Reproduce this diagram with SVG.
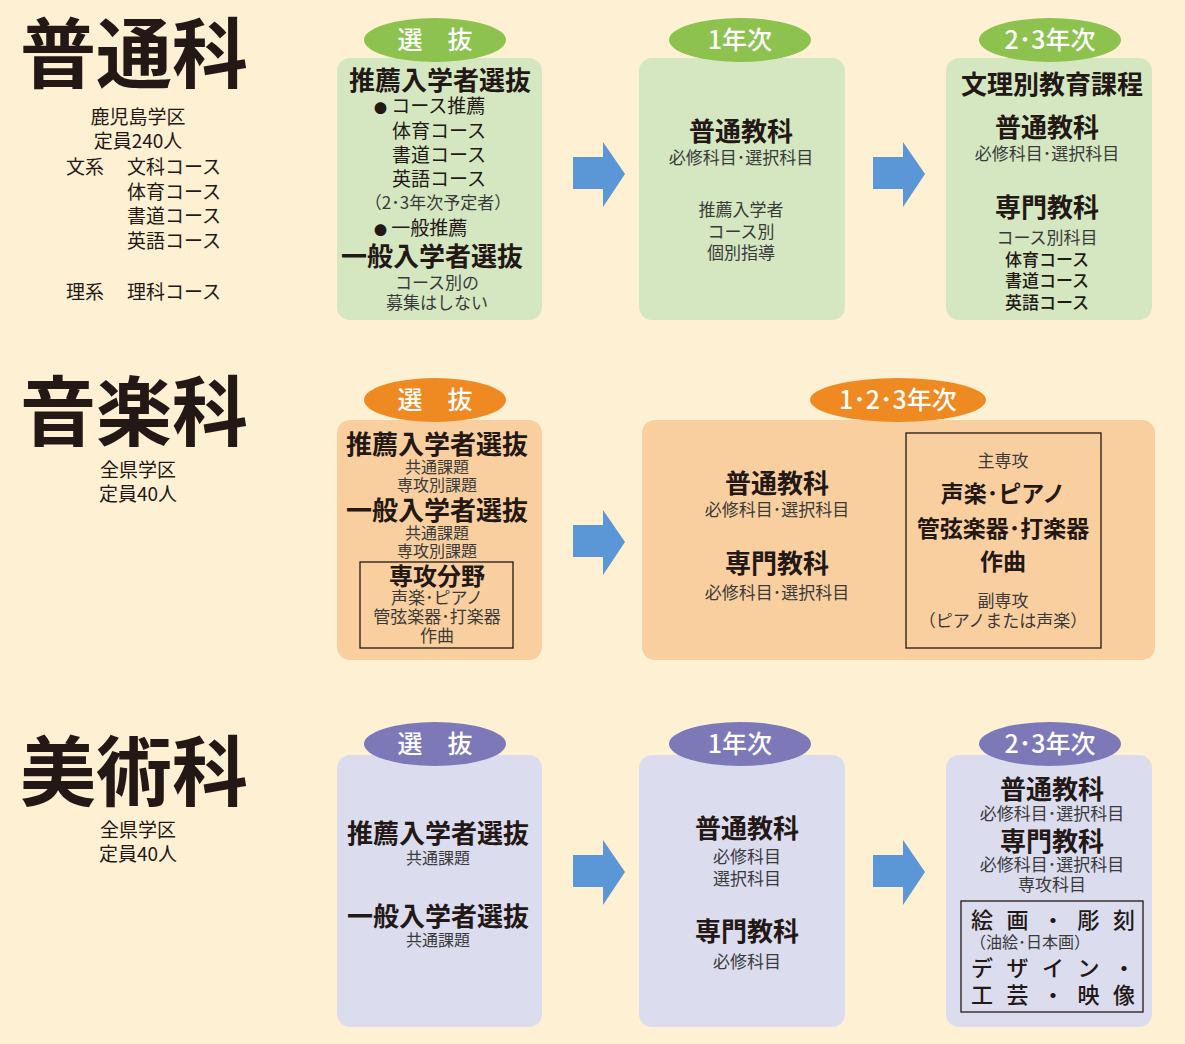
<svg xmlns="http://www.w3.org/2000/svg" width="1185" height="1044" viewBox="0 0 1185 1044">
<style>
text{font-family:"Noto Sans CJK JP","Noto Sans",sans-serif;fill:#231815}
.t{font-size:76px;font-weight:700}
.h{font-size:26px;font-weight:700;text-anchor:middle}
.s{font-size:17px;text-anchor:middle;fill:#3a3a3a}
.m{font-size:19px;fill:#231815}
.b{font-size:13px}
.p{font-size:25px;font-weight:500;fill:#fff;text-anchor:middle}
.g{fill:#d4e7c1}
.o{fill:#f9cf9f}
.v{fill:#dcdcef}
.pg{fill:#8dc24f}
.po{fill:#ef8a22}
.pv{fill:#7d79b9}
.box{fill:none;stroke:#231815;stroke-width:1.3}
.arr{fill:#5b96d6}
</style>
<rect width="1185" height="1044" fill="#fef0d3"/>

<g id="connectors">
<path class="arr" d="M573,157 H603 V142 L625,174 L603,207 V189 H573 Z"/>
<path class="arr" d="M873,157 H903 V142 L925,174 L903,207 V189 H873 Z"/>
<path class="arr" d="M573,525 H603 V510 L625,542 L603,575 V557 H573 Z"/>
<path class="arr" d="M573,855 H603 V840 L625,872 L603,905 V887 H573 Z"/>
<path class="arr" d="M873,855 H903 V840 L925,872 L903,905 V887 H873 Z"/>
</g>

<g id="title-futsuka">
<text class="t" x="20" y="82">普通科</text>
<text class="m" x="138" y="124" text-anchor="middle">鹿児島学区</text>
<text class="m" x="138" y="148" text-anchor="middle">定員240人</text>
<text class="m" x="66" y="174">文系</text>
<text class="m" x="127" y="174">文科コース</text>
<text class="m" x="127" y="199">体育コース</text>
<text class="m" x="127" y="223">書道コース</text>
<text class="m" x="127" y="248">英語コース</text>
<text class="m" x="66" y="299">理系</text>
<text class="m" x="127" y="299">理科コース</text>
</g>

<g id="futsu-senbatsu">
<rect class="g" x="337" y="58" width="205" height="262" rx="13"/>
<ellipse class="pg" cx="435" cy="40" rx="71" ry="22"/>
<text class="p" x="435" y="49">選　抜</text>
<text class="h" x="440" y="90">推薦入学者選抜</text>
<text class="m" x="374" y="113"><tspan class="b">●</tspan> コース推薦</text>
<text class="m" x="439" y="138" text-anchor="middle">体育コース</text>
<text class="m" x="439" y="162" text-anchor="middle">書道コース</text>
<text class="m" x="439" y="186" text-anchor="middle">英語コース</text>
<text class="s" x="438" y="209">（2･3年次予定者）</text>
<text class="m" x="374" y="235"><tspan class="b">●</tspan> 一般推薦</text>
<text class="h" x="432" y="266">一般入学者選抜</text>
<text class="s" x="437" y="289">コース別の</text>
<text class="s" x="437" y="309">募集はしない</text>
</g>

<g id="futsu-1nen">
<rect class="g" x="639" y="58" width="206" height="262" rx="13"/>
<ellipse class="pg" cx="740" cy="40" rx="71" ry="22"/>
<text class="p" x="740" y="49">1年次</text>
<text class="h" x="741" y="141">普通教科</text>
<text class="s" x="741" y="164">必修科目･選択科目</text>
<text class="s" x="741" y="216">推薦入学者</text>
<text class="s" x="741" y="238">コース別</text>
<text class="s" x="741" y="259">個別指導</text>
</g>

<g id="futsu-23nen">
<rect class="g" x="946" y="58" width="206" height="262" rx="13"/>
<ellipse class="pg" cx="1050" cy="40" rx="71" ry="22"/>
<text class="p" x="1050" y="49">2･3年次</text>
<text class="h" x="1052" y="94">文理別教育課程</text>
<text class="h" x="1047" y="137">普通教科</text>
<text class="s" x="1047" y="160">必修科目･選択科目</text>
<text class="h" x="1047" y="217">専門教科</text>
<text class="s" x="1047" y="244">コース別科目</text>
<text class="s" x="1047" y="266" style="fill:#231815;font-weight:500">体育コース</text>
<text class="s" x="1047" y="287" style="fill:#231815;font-weight:500">書道コース</text>
<text class="s" x="1047" y="309" style="fill:#231815;font-weight:500">英語コース</text>
</g>

<g id="title-ongaku">
<text class="t" x="20" y="440">音楽科</text>
<text class="m" x="138" y="477" text-anchor="middle">全県学区</text>
<text class="m" x="138" y="501" text-anchor="middle">定員40人</text>
</g>

<g id="ongaku-senbatsu">
<rect class="o" x="337" y="420" width="205" height="240" rx="13"/>
<ellipse class="po" cx="435" cy="400" rx="71" ry="22"/>
<text class="p" x="435" y="409">選　抜</text>
<text class="h" x="437" y="454">推薦入学者選抜</text>
<text class="s" x="437" y="473" style="font-size:16px">共通課題</text>
<text class="s" x="437" y="491" style="font-size:16px">専攻別課題</text>
<text class="h" x="437" y="520">一般入学者選抜</text>
<text class="s" x="437" y="539" style="font-size:16px">共通課題</text>
<text class="s" x="437" y="557" style="font-size:16px">専攻別課題</text>
<rect class="box" x="360" y="562" width="153" height="86"/>
<text class="h" x="437" y="585" style="font-size:24px">専攻分野</text>
<text class="s" x="437" y="604">声楽･ピアノ</text>
<text class="s" x="437" y="623">管弦楽器･打楽器</text>
<text class="s" x="437" y="642">作曲</text>
</g>

<g id="ongaku-123nen">
<rect class="o" x="642" y="420" width="513" height="240" rx="13"/>
<ellipse class="po" cx="898" cy="400" rx="88" ry="22"/>
<text class="p" x="898" y="409">1･2･3年次</text>
<text class="h" x="777" y="493">普通教科</text>
<text class="s" x="777" y="516">必修科目･選択科目</text>
<text class="h" x="777" y="573">専門教科</text>
<text class="s" x="777" y="599">必修科目･選択科目</text>
<rect class="box" x="906" y="433" width="195" height="215"/>
<text class="s" x="1003" y="467">主専攻</text>
<text class="h" x="1003" y="502" style="font-size:23px">声楽･ピアノ</text>
<text class="h" x="1003" y="537" style="font-size:23px">管弦楽器･打楽器</text>
<text class="h" x="1003" y="570" style="font-size:23px">作曲</text>
<text class="s" x="1003" y="607">副専攻</text>
<text class="s" x="1003" y="627">（ピアノまたは声楽）</text>
</g>

<g id="title-bijutsu">
<text class="t" x="20" y="800">美術科</text>
<text class="m" x="138" y="837" text-anchor="middle">全県学区</text>
<text class="m" x="138" y="861" text-anchor="middle">定員40人</text>
</g>

<g id="bijutsu-senbatsu">
<rect class="v" x="337" y="755" width="205" height="272" rx="13"/>
<ellipse class="pv" cx="435" cy="744" rx="71" ry="22"/>
<text class="p" x="435" y="753">選　抜</text>
<text class="h" x="438" y="843">推薦入学者選抜</text>
<text class="s" x="438" y="864" style="font-size:16px">共通課題</text>
<text class="h" x="438" y="926">一般入学者選抜</text>
<text class="s" x="438" y="946" style="font-size:16px">共通課題</text>
</g>

<g id="bijutsu-1nen">
<rect class="v" x="639" y="755" width="206" height="272" rx="13"/>
<ellipse class="pv" cx="740" cy="744" rx="71" ry="22"/>
<text class="p" x="740" y="753">1年次</text>
<text class="h" x="747" y="838">普通教科</text>
<text class="s" x="747" y="863">必修科目</text>
<text class="s" x="747" y="885">選択科目</text>
<text class="h" x="747" y="941">専門教科</text>
<text class="s" x="747" y="968">必修科目</text>
</g>

<g id="bijutsu-23nen">
<rect class="v" x="946" y="755" width="206" height="272" rx="13"/>
<ellipse class="pv" cx="1050" cy="744" rx="71" ry="22"/>
<text class="p" x="1050" y="753">2･3年次</text>
<text class="h" x="1052" y="799">普通教科</text>
<text class="s" x="1052" y="820">必修科目･選択科目</text>
<text class="h" x="1052" y="851">専門教科</text>
<text class="s" x="1052" y="871">必修科目･選択科目</text>
<text class="s" x="1052" y="891">専攻科目</text>
<rect class="box" x="961" y="901" width="182" height="111"/>
<text x="971" y="928" style="font-size:22px;font-weight:500" textLength="164" lengthAdjust="spacing">絵画・彫刻</text>
<text x="970" y="948" style="font-size:16px;fill:#3a3a3a">（油絵･日本画）</text>
<text x="971" y="976" style="font-size:22px;font-weight:500" textLength="164" lengthAdjust="spacing">デザイン・</text>
<text x="971" y="1003" style="font-size:22px;font-weight:500" textLength="164" lengthAdjust="spacing">工芸・映像</text>
</g>
</svg>
